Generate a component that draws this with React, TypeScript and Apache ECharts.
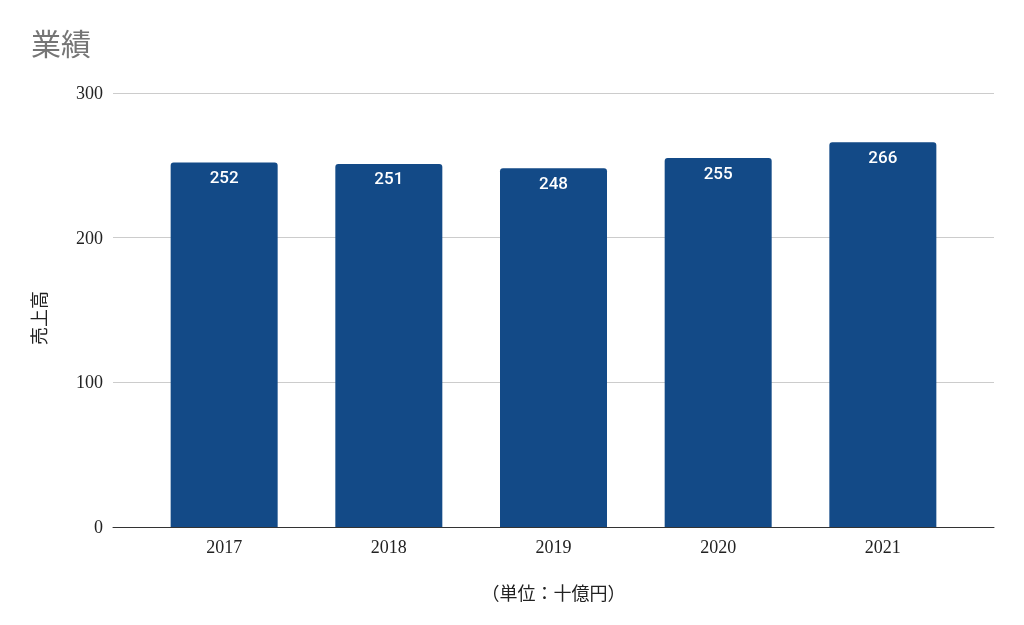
import React, { useEffect, useRef } from "react";
import * as echarts from "echarts";

const categories = ["2017", "2018", "2019", "2020", "2021"];
const sales = [252, 251, 248, 255, 266];
const yTicks = [0, 100, 200, 300];

export default function App() {
  const ref = useRef<HTMLDivElement>(null);
  useEffect(() => {
    const chart = echarts.init(ref.current!, null, { renderer: "svg" });
    const idx = categories.map((_, i) => i);
    chart.setOption({
      animation: false,
      title: {
        text: "業績",
        left: 26,
        top: 22,
        textStyle: {
          fontFamily: "'Noto Sans CJK JP', sans-serif",
          fontSize: 30,
          fontWeight: "normal",
          color: "#757575",
        },
      },
      grid: { left: 113, right: 30, top: 93, bottom: 98, containLabel: false },
      xAxis: {
        type: "value",
        min: -0.675,
        max: categories.length - 1 + 0.675,
        name: "（単位：十億円）",
        nameLocation: "middle",
        nameGap: 56,
        nameTextStyle: {
          fontFamily: "'Noto Sans CJK JP', serif",
          fontSize: 18,
          color: "#222",
        },
        splitLine: { show: false },
        axisLine: { onZero: false, lineStyle: { color: "#333", width: 1 } },
        axisTick: { show: false },
        axisLabel: {
          customValues: idx,
          formatter: (v: number) => categories[Math.round(v)] ?? "",
          margin: 11,
          fontFamily: "'Liberation Serif', 'Times New Roman', serif",
          fontSize: 18,
          color: "#222",
        },
      },
      yAxis: {
        type: "value",
        min: yTicks[0],
        max: yTicks[yTicks.length - 1],
        interval: 100,
        name: "売上高",
        nameLocation: "middle",
        nameGap: 66,
        nameRotate: 90,
        nameTextStyle: {
          fontFamily: "'Noto Sans CJK JP', serif",
          fontSize: 18,
          color: "#222",
          padding: [0, 16, 0, 0],
        },
        axisLine: { show: false },
        axisTick: { show: false },
        splitLine: { lineStyle: { color: "#cccccc", width: 1 } },
        axisLabel: {
          margin: 10,
          fontFamily: "'Liberation Serif', 'Times New Roman', serif",
          fontSize: 18,
          color: "#222",
        },
      },
      series: [
        {
          type: "bar",
          data: sales.map((v, i) => [i, v]),
          barWidth: 107,
          itemStyle: { color: "#134a87", borderRadius: [3, 3, 0, 0] },
          label: {
            show: true,
            position: "insideTop",
            distance: 6,
            color: "#ffffff",
            fontFamily: "Roboto, sans-serif",
            fontWeight: 500,
            fontSize: 17,
            formatter: (p: any) => String(p.value[1]),
          },
        },
      ],
    });
    return () => chart.dispose();
  }, []);
  return (
    <div
      ref={ref}
      style={{ position: "fixed", left: 0, top: 0, width: 1024, height: 625 }}
    />
  );
}
